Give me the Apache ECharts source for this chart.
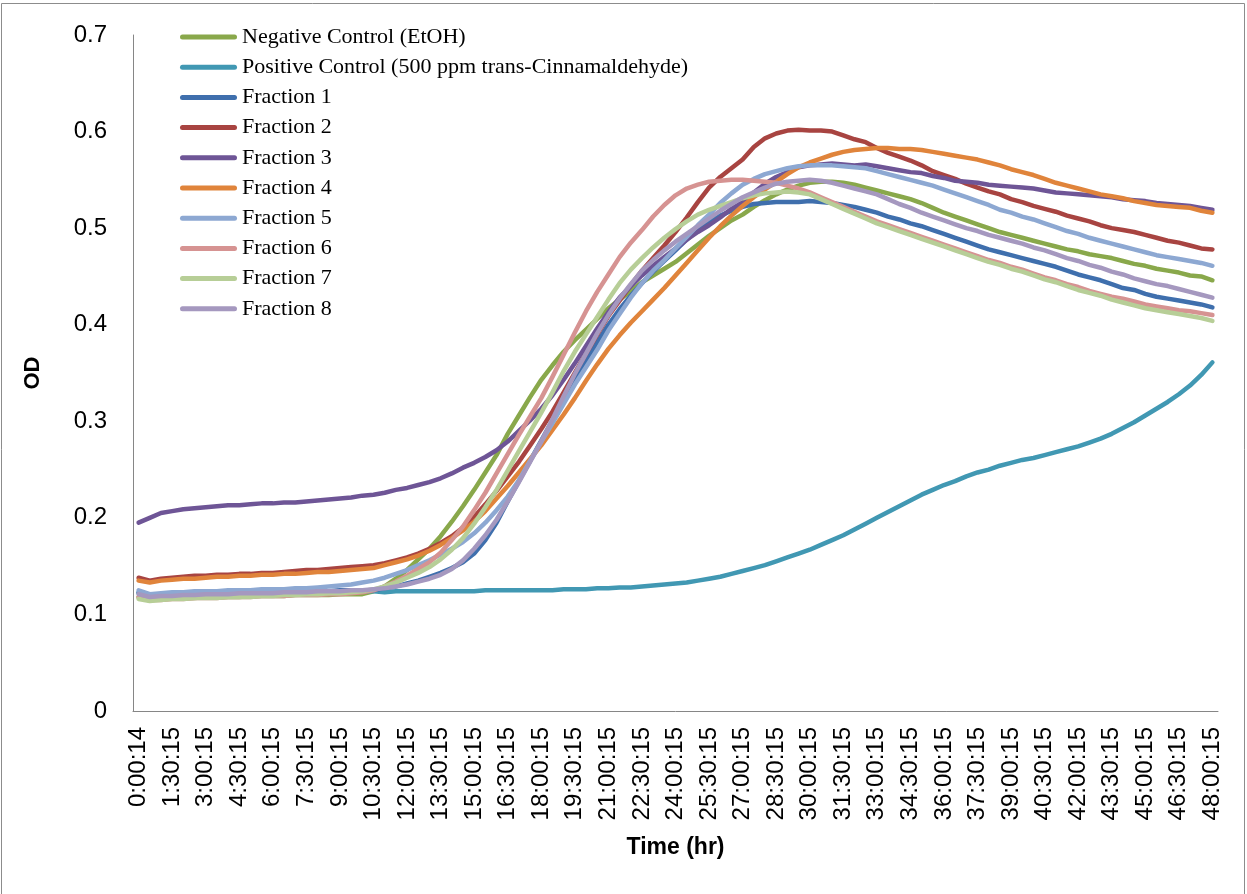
<!DOCTYPE html>
<html>
<head>
<meta charset="utf-8">
<script src="https://cdn.jsdelivr.net/npm/echarts@6/dist/echarts.min.js"></script>
<style>
html,body{margin:0;padding:0;background:#fff;}
#chart{width:1247px;height:894px;}
</style>
</head>
<body>
<div id="chart"></div>
<script>
var categories = ['0:00:14','0:30:15','1:00:15','1:30:15','2:00:15','2:30:15','3:00:15','3:30:15','4:00:15','4:30:15',
'5:00:15','5:30:15','6:00:15','6:30:15','7:00:15','7:30:15','8:00:15','8:30:15','9:00:15','9:30:15',
'10:00:15','10:30:15','11:00:15','11:30:15','12:00:15','12:30:15','13:00:15','13:30:15','14:00:15','14:30:15',
'15:00:15','15:30:15','16:00:15','16:30:15','17:00:15','17:30:15','18:00:15','18:30:15','19:00:15','19:30:15',
'20:00:15','20:30:15','21:00:15','21:30:15','22:00:15','22:30:15','23:00:15','23:30:15','24:00:15','24:30:15',
'25:00:15','25:30:15','26:00:15','26:30:15','27:00:15','27:30:15','28:00:15','28:30:15','29:00:15','29:30:15',
'30:00:15','30:30:15','31:00:15','31:30:15','32:00:15','32:30:15','33:00:15','33:30:15','34:00:15','34:30:15',
'35:00:15','35:30:15','36:00:15','36:30:15','37:00:15','37:30:15','38:00:15','38:30:15','39:00:15','39:30:15',
'40:00:15','40:30:15','41:00:15','41:30:15','42:00:15','42:30:15','43:00:15','43:30:15','44:00:15','44:30:15',
'45:00:15','45:30:15','46:00:15','46:30:15','47:00:15','47:30:15','48:00:15'];

var yTicks = [0, 0.1, 0.2, 0.3, 0.4, 0.5, 0.6, 0.7];

var seriesNames = ['Negative Control (EtOH)','Positive Control (500 ppm trans-Cinnamaldehyde)','Fraction 1','Fraction 2','Fraction 3','Fraction 4','Fraction 5','Fraction 6','Fraction 7','Fraction 8'];
var seriesColors = ['#89A84B','#4198B3','#3F6FAD','#A84441','#6E5596','#E0843B','#8DA8D2','#D69392','#B7CE97','#A598BF'];

var negativeControl = [0.118,0.116,0.116,0.117,0.117,0.117,0.118,0.118,0.118,0.118,
0.119,0.119,0.119,0.119,0.120,0.120,0.120,0.120,0.121,0.121,
0.121,0.124,0.129,0.137,0.146,0.157,0.168,0.181,0.196,0.212,
0.229,0.247,0.265,0.287,0.306,0.325,0.343,0.358,0.372,0.384,
0.395,0.406,0.417,0.426,0.435,0.444,0.451,0.458,0.465,0.474,
0.483,0.492,0.500,0.508,0.514,0.522,0.529,0.535,0.540,0.544,
0.547,0.548,0.548,0.547,0.545,0.542,0.539,0.536,0.533,0.530,
0.526,0.521,0.516,0.512,0.508,0.504,0.500,0.496,0.493,0.490,
0.487,0.484,0.481,0.478,0.476,0.473,0.471,0.469,0.466,0.463,
0.461,0.458,0.456,0.454,0.451,0.450,0.446];

var positiveControl = [0.122,0.120,0.121,0.121,0.122,0.122,0.122,0.122,0.123,0.123,
0.123,0.123,0.123,0.123,0.124,0.124,0.124,0.124,0.124,0.124,
0.124,0.124,0.123,0.124,0.124,0.124,0.124,0.124,0.124,0.124,
0.124,0.125,0.125,0.125,0.125,0.125,0.125,0.125,0.126,0.126,
0.126,0.127,0.127,0.128,0.128,0.129,0.130,0.131,0.132,0.133,
0.135,0.137,0.139,0.142,0.145,0.148,0.151,0.155,0.159,0.163,
0.167,0.172,0.177,0.182,0.188,0.194,0.200,0.206,0.212,0.218,
0.224,0.229,0.234,0.238,0.243,0.247,0.250,0.254,0.257,0.260,
0.262,0.265,0.268,0.271,0.274,0.278,0.282,0.287,0.293,0.299,
0.306,0.313,0.320,0.328,0.337,0.348,0.361];

var fraction1 = [0.123,0.120,0.121,0.121,0.122,0.122,0.122,0.122,0.123,0.123,
0.123,0.123,0.123,0.124,0.124,0.124,0.124,0.124,0.125,0.125,
0.125,0.125,0.127,0.129,0.132,0.135,0.139,0.143,0.148,0.154,
0.163,0.177,0.195,0.217,0.238,0.259,0.280,0.301,0.322,0.342,
0.362,0.382,0.400,0.416,0.430,0.443,0.455,0.466,0.477,0.488,
0.498,0.506,0.513,0.518,0.522,0.525,0.526,0.527,0.527,0.527,
0.528,0.527,0.526,0.524,0.522,0.519,0.516,0.512,0.509,0.505,
0.502,0.498,0.494,0.490,0.486,0.482,0.478,0.475,0.472,0.469,
0.466,0.463,0.460,0.456,0.452,0.449,0.446,0.442,0.438,0.436,
0.432,0.429,0.427,0.425,0.423,0.421,0.418];

var fraction2 = [0.138,0.135,0.137,0.138,0.139,0.140,0.140,0.141,0.141,0.142,
0.142,0.143,0.143,0.144,0.145,0.146,0.146,0.147,0.148,0.149,
0.150,0.151,0.153,0.156,0.159,0.163,0.168,0.174,0.181,0.190,
0.201,0.214,0.228,0.243,0.258,0.275,0.292,0.310,0.330,0.350,
0.370,0.390,0.409,0.425,0.441,0.456,0.469,0.482,0.496,0.511,
0.527,0.542,0.553,0.562,0.571,0.584,0.593,0.598,0.601,0.602,
0.601,0.601,0.600,0.596,0.592,0.589,0.583,0.578,0.574,0.570,
0.565,0.559,0.555,0.551,0.546,0.542,0.538,0.535,0.530,0.527,
0.523,0.520,0.517,0.513,0.510,0.507,0.503,0.500,0.498,0.496,
0.493,0.490,0.487,0.485,0.482,0.479,0.478];

var fraction3 = [0.195,0.200,0.205,0.207,0.209,0.210,0.211,0.212,0.213,0.213,
0.214,0.215,0.215,0.216,0.216,0.217,0.218,0.219,0.220,0.221,
0.223,0.224,0.226,0.229,0.231,0.234,0.237,0.241,0.246,0.252,
0.257,0.263,0.270,0.279,0.290,0.301,0.313,0.327,0.343,0.360,
0.378,0.396,0.413,0.428,0.440,0.451,0.461,0.470,0.479,0.488,
0.496,0.503,0.511,0.520,0.527,0.537,0.546,0.553,0.558,0.563,
0.565,0.566,0.567,0.566,0.565,0.566,0.564,0.562,0.560,0.558,
0.557,0.554,0.552,0.549,0.548,0.547,0.545,0.544,0.543,0.542,
0.541,0.539,0.537,0.536,0.535,0.534,0.533,0.532,0.530,0.529,
0.528,0.526,0.525,0.524,0.523,0.521,0.519];

var fraction4 = [0.135,0.133,0.135,0.136,0.137,0.137,0.138,0.139,0.139,0.140,
0.140,0.141,0.141,0.142,0.142,0.143,0.144,0.144,0.145,0.146,
0.147,0.148,0.151,0.154,0.157,0.161,0.166,0.172,0.179,0.187,
0.196,0.207,0.220,0.233,0.247,0.261,0.275,0.291,0.307,0.324,
0.342,0.359,0.375,0.389,0.402,0.414,0.426,0.438,0.451,0.464,
0.477,0.490,0.502,0.513,0.523,0.532,0.540,0.548,0.556,0.563,
0.568,0.572,0.576,0.579,0.581,0.582,0.583,0.583,0.582,0.582,
0.581,0.579,0.577,0.575,0.573,0.571,0.568,0.565,0.561,0.558,
0.555,0.551,0.547,0.544,0.541,0.538,0.535,0.533,0.531,0.528,
0.526,0.524,0.523,0.522,0.521,0.518,0.516];

var fraction5 = [0.125,0.121,0.122,0.123,0.123,0.124,0.124,0.124,0.125,0.125,
0.125,0.126,0.126,0.126,0.127,0.127,0.128,0.129,0.130,0.131,
0.133,0.135,0.138,0.142,0.146,0.151,0.156,0.162,0.168,0.175,
0.184,0.195,0.208,0.222,0.239,0.259,0.279,0.298,0.318,0.338,
0.356,0.374,0.394,0.411,0.428,0.443,0.456,0.467,0.479,0.491,
0.503,0.514,0.526,0.536,0.545,0.551,0.556,0.559,0.562,0.564,
0.565,0.565,0.565,0.564,0.563,0.562,0.559,0.556,0.553,0.550,
0.547,0.544,0.540,0.536,0.532,0.528,0.524,0.519,0.516,0.512,
0.509,0.505,0.501,0.497,0.494,0.490,0.487,0.484,0.481,0.478,
0.475,0.472,0.470,0.468,0.466,0.464,0.461];

var fraction6 = [0.118,0.115,0.115,0.116,0.116,0.117,0.117,0.117,0.118,0.118,
0.118,0.119,0.119,0.119,0.120,0.120,0.120,0.121,0.121,0.122,
0.123,0.125,0.129,0.134,0.140,0.147,0.154,0.164,0.177,0.191,
0.208,0.226,0.246,0.266,0.286,0.305,0.324,0.346,0.369,0.392,
0.414,0.434,0.452,0.470,0.485,0.498,0.512,0.524,0.534,0.541,
0.545,0.548,0.549,0.550,0.550,0.549,0.548,0.547,0.544,0.541,
0.537,0.532,0.527,0.522,0.517,0.512,0.507,0.503,0.499,0.495,
0.491,0.487,0.483,0.479,0.475,0.471,0.467,0.464,0.460,0.457,
0.453,0.449,0.446,0.442,0.439,0.435,0.432,0.429,0.427,0.424,
0.421,0.419,0.417,0.415,0.414,0.412,0.410];

var fraction7 = [0.116,0.114,0.115,0.116,0.116,0.117,0.117,0.117,0.118,0.118,
0.118,0.119,0.119,0.120,0.120,0.121,0.121,0.122,0.122,0.123,
0.124,0.126,0.129,0.133,0.138,0.143,0.149,0.157,0.167,0.179,
0.194,0.211,0.229,0.249,0.269,0.289,0.309,0.330,0.352,0.372,
0.390,0.408,0.426,0.443,0.457,0.469,0.480,0.490,0.499,0.507,
0.514,0.519,0.523,0.527,0.531,0.534,0.536,0.537,0.538,0.537,
0.535,0.530,0.525,0.520,0.515,0.510,0.505,0.501,0.497,0.493,
0.489,0.485,0.481,0.477,0.473,0.469,0.465,0.462,0.458,0.455,
0.451,0.447,0.444,0.440,0.436,0.433,0.430,0.426,0.423,0.420,
0.417,0.415,0.413,0.411,0.409,0.407,0.404];

var fraction8 = [0.121,0.118,0.119,0.119,0.120,0.120,0.121,0.121,0.121,0.122,
0.122,0.122,0.122,0.123,0.123,0.123,0.124,0.124,0.124,0.125,
0.125,0.126,0.127,0.129,0.131,0.134,0.137,0.141,0.147,0.156,
0.168,0.182,0.198,0.217,0.237,0.258,0.279,0.302,0.326,0.349,
0.370,0.391,0.410,0.427,0.442,0.456,0.467,0.477,0.486,0.494,
0.502,0.510,0.518,0.525,0.532,0.537,0.542,0.546,0.548,0.549,
0.550,0.549,0.547,0.544,0.541,0.538,0.535,0.530,0.525,0.521,
0.516,0.512,0.508,0.504,0.500,0.497,0.493,0.490,0.487,0.484,
0.480,0.477,0.473,0.469,0.466,0.462,0.459,0.455,0.452,0.448,
0.445,0.442,0.440,0.437,0.434,0.431,0.428];

var allData = [negativeControl, positiveControl, fraction1, fraction2, fraction3, fraction4, fraction5, fraction6, fraction7, fraction8];

var series = seriesNames.map(function (name, k) {
  return {
    name: name,
    type: 'line',
    data: allData[k],
    showSymbol: false,
    symbol: 'none',
    smooth: false,
    lineStyle: { color: seriesColors[k], width: 4.5, cap: 'round', join: 'round' },
    itemStyle: { color: seriesColors[k] },
    emphasis: { disabled: true }
  };
});

var chart = echarts.init(document.getElementById('chart'), null, { renderer: 'canvas' });
chart.setOption({
  animation: false,
  backgroundColor: '#ffffff',
  grid: { left: 133, right: 29, top: 35, bottom: 183, containLabel: false },
  legend: {
    orient: 'vertical',
    left: 180,
    top: 26,
    padding: 0,
    itemWidth: 57,
    itemHeight: 5,
    itemGap: 8.2,
    icon: 'path://M2.5,0 L54.5,0 A2.5,2.5 0 0 1 54.5,5 L2.5,5 A2.5,2.5 0 0 1 2.5,0 Z',
    data: seriesNames,
    textStyle: { fontFamily: 'Liberation Serif', fontSize: 22, color: '#000', lineHeight: 22 }
  },
  graphic: [{
    type: 'rect',
    shape: { x: 1.5, y: 3.5, width: 1243, height: 900 },
    style: { fill: 'none', stroke: '#8c8c8c', lineWidth: 1 },
    silent: true
  }],
  xAxis: {
    type: 'category',
    data: categories,
    boundaryGap: true,
    axisLine: { show: true, lineStyle: { color: '#868686', width: 1 } },
    axisTick: { show: false },
    splitLine: { show: false },
    axisLabel: { interval: 2, rotate: 90, margin: 16, fontFamily: 'Liberation Sans', fontSize: 24, color: '#000' },
    name: 'Time (hr)',
    nameLocation: 'middle',
    nameGap: 125,
    nameTextStyle: { fontFamily: 'Liberation Sans', fontWeight: 'bold', fontSize: 23, color: '#000' }
  },
  yAxis: {
    type: 'value',
    min: yTicks[0],
    max: yTicks[yTicks.length - 1],
    interval: 0.1,
    axisLine: { show: true, lineStyle: { color: '#868686', width: 1 } },
    axisTick: { show: false },
    splitLine: { show: false },
    axisLabel: {
      margin: 26, fontFamily: 'Liberation Sans', fontSize: 24, color: '#000',
      formatter: function (v) { return String(Math.round(v * 10) / 10); }
    },
    name: 'OD',
    nameLocation: 'middle',
    nameGap: 89,
    nameRotate: 90,
    nameTextStyle: { fontFamily: 'Liberation Sans', fontWeight: 'bold', fontSize: 22, color: '#000' }
  },
  series: series
});
</script>
</body>
</html>
